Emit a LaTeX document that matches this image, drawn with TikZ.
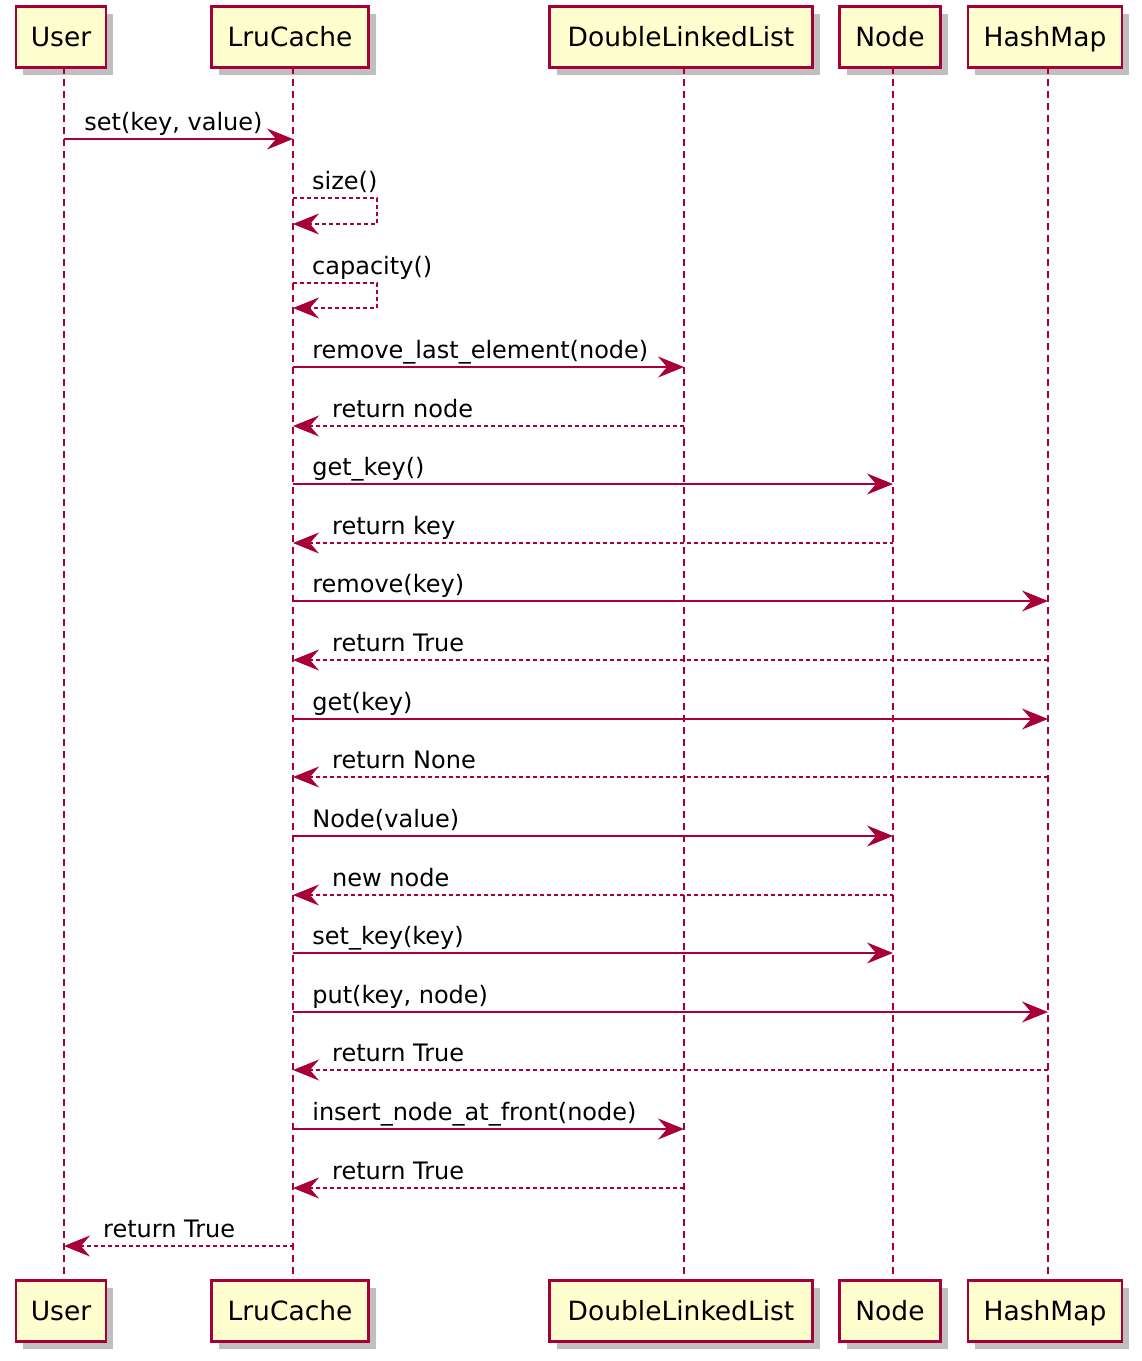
\documentclass[tikz,border=0pt]{standalone}
\usepackage{fontspec}
\setmainfont{DejaVu Sans}
\usetikzlibrary{arrows.meta, shadows}
\definecolor{umlred}{RGB}{168,0,54}
\definecolor{umlpaper}{RGB}{254,254,206}

\begin{document}
\begin{tikzpicture}[x=1pt, y=-1pt, font=\fontsize{24}{30}\selectfont,
  umlhead/.tip={Stealth[length=26pt, width=21pt, inset=9pt]},
  actor/.style={draw=umlred, fill=umlpaper, line width=2.6pt, minimum height=61pt,
    font=\fontsize{26.5}{30}\selectfont, text height=19pt, text depth=0pt,
    drop shadow={shadow xshift=7pt, shadow yshift=-7pt, fill=black, opacity=.25}},
  life/.style={umlred, line width=1.4pt, dash pattern=on 7pt off 5pt},
  call/.style={umlred, line width=2pt, -umlhead},
  ret/.style={umlred, line width=1.7pt, dash pattern=on 4pt off 3pt, umlhead-},
  selfm/.style={umlred, line width=1.7pt, dash pattern=on 4pt off 3pt, -umlhead},
  lbl/.style={anchor=base west, text=black, yshift=9pt}]
\useasboundingbox (0,0) rectangle (1142,1361);

\foreach \n/\x/\w/\t in {user/64/90/User, lru/293/157/LruCache, dll/684/263/DoubleLinkedList,
                          nd/893/101/Node, hm/1048/154/HashMap} {
  \node[actor, minimum width=\w pt] (\n1) at (\x-3,37) {\t};
  \node[actor, minimum width=\w pt] (\n2) at (\x-3,1311) {\t};
  \coordinate (\n) at (\x,67);
  \draw[life] (\n) -- (\n |- \n2.north);
}

\foreach \y/\a/\b/\k/\d/\t in {
    139/user/lru/call/16/{set(key, value)},
    367/lru/dll/call/15/{remove\_last\_element(node)},
    426/lru/dll/ret/35/{return node},
    484/lru/nd/call/15/{get\_key()},
    543/lru/nd/ret/35/{return key},
    601/lru/hm/call/15/{remove(key)},
    660/lru/hm/ret/35/{return True},
    719/lru/hm/call/15/{get(key)},
    777/lru/hm/ret/35/{return None},
    836/lru/nd/call/15/{Node(value)},
    895/lru/nd/ret/35/{new node},
    953/lru/nd/call/15/{set\_key(key)},
    1012/lru/hm/call/15/{put(key, node)},
    1070/lru/hm/ret/35/{return True},
    1129/lru/dll/call/15/{insert\_node\_at\_front(node)},
    1188/lru/dll/ret/35/{return True},
    1246/user/lru/ret/35/{return True}} {
  \draw[\k] (\a |- 0,\y) -- (\b |- 0,\y) node[lbl, pos=0, xshift=\d pt] {\t};
}

\draw[selfm] (lru |- 0,198) -- ++(84,0) node[lbl, pos=0, xshift=15pt] {size()}
  -- ++(0,26) -- (lru |- 0,224);
\draw[selfm] (lru |- 0,283) -- ++(84,0) node[lbl, pos=0, xshift=15pt] {capacity()}
  -- ++(0,25) -- (lru |- 0,308);
\end{tikzpicture}
\end{document}
